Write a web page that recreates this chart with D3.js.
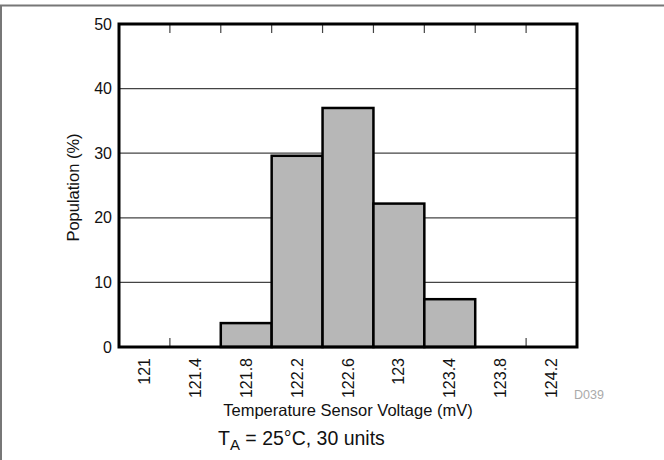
<!DOCTYPE html>
<html>
<head>
<meta charset="utf-8">
<script src="https://cdn.jsdelivr.net/npm/d3@7"></script>
<style>
  body { margin: 0; background: #fff; }
  text { font-family: "Liberation Sans", Arial, sans-serif; }
</style>
</head>
<body>
<div id="chart"></div>
<script>
// histogram bins (mV) and population (%)
const bins = ["121", "121.4", "121.8", "122.2", "122.6", "123", "123.4", "123.8", "124.2"];
const population = [0, 0, 3.7, 29.6, 37.0, 22.2, 7.4, 0, 0];
const yTicks = [0, 10, 20, 30, 40, 50];

const W = 664, H = 460;
const margin = {left: 119, top: 24, right: 87, bottom: 113},
    width = W - margin.left - margin.right,
    height = H - margin.top - margin.bottom;

const svg = d3.select("#chart").append("svg")
    .attr("width", W)
    .attr("height", H);

// outer frame (top and left edges only)
svg.append("line")
    .attr("x1", 0).attr("x2", W)
    .attr("y1", 5.5).attr("y2", 5.5)
    .attr("stroke", "#777").attr("stroke-width", 2);
svg.append("line")
    .attr("x1", 1).attr("x2", 1)
    .attr("y1", 5).attr("y2", H)
    .attr("stroke", "#777").attr("stroke-width", 2);

const g = svg.append("g")
    .attr("transform", `translate(${margin.left}, ${margin.top})`);

const xScale = d3.scaleBand()
    .domain(bins)
    .range([0, width])
    .padding(0);
const yScale = d3.scaleLinear()
    .domain([0, 50])
    .range([height, 0]);

// gridlines
g.selectAll(".grid")
    .data(yTicks.slice(1, -1))
    .enter().append("line")
    .attr("class", "grid")
    .attr("x1", 0).attr("x2", width)
    .attr("y1", d => yScale(d)).attr("y2", d => yScale(d))
    .attr("stroke", "#444").attr("stroke-width", 1.2);

// tick marks at bin edges, top and bottom, pointing inward
const edges = bins.slice(1).map(b => xScale(b));
g.selectAll(".ttick")
    .data(edges)
    .enter().append("line")
    .attr("x1", d => d).attr("x2", d => d)
    .attr("y1", 0).attr("y2", 9)
    .attr("stroke", "#444").attr("stroke-width", 1.2);
g.selectAll(".btick")
    .data(edges)
    .enter().append("line")
    .attr("x1", d => d).attr("x2", d => d)
    .attr("y1", height).attr("y2", height - 9)
    .attr("stroke", "#444").attr("stroke-width", 1.2);

// bars
g.selectAll(".bar")
    .data(bins.map((b, i) => ({bin: b, v: population[i]})).filter(d => d.v > 0))
    .enter().append("rect")
    .attr("class", "bar")
    .attr("x", d => xScale(d.bin))
    .attr("y", d => yScale(d.v))
    .attr("width", xScale.bandwidth())
    .attr("height", d => height - yScale(d.v))
    .attr("fill", "#b7b7b7")
    .attr("stroke", "#000")
    .attr("stroke-width", 2.5);

// plot frame
g.append("rect")
    .attr("x", 0).attr("y", 0)
    .attr("width", width).attr("height", height)
    .attr("fill", "none")
    .attr("stroke", "#000")
    .attr("stroke-width", 3);

// y axis labels
g.selectAll(".ylab")
    .data(yTicks)
    .enter().append("text")
    .attr("x", -7)
    .attr("y", d => yScale(d))
    .attr("dy", "0.35em")
    .attr("text-anchor", "end")
    .attr("font-size", "16px")
    .attr("fill", "#111")
    .text(d => d);

// x axis labels, rotated
g.selectAll(".xlab")
    .data(bins)
    .enter().append("text")
    .attr("transform", d => `translate(${xScale(d) + xScale.bandwidth() / 2}, ${height + 11}) rotate(-90)`)
    .attr("dy", "0.35em")
    .attr("text-anchor", "end")
    .attr("font-size", "16px")
    .attr("fill", "#111")
    .text(d => d);

// axis titles
g.append("text")
    .attr("transform", `translate(${79 - margin.left}, ${height / 2 + 2}) rotate(-90)`)
    .attr("text-anchor", "middle")
    .attr("font-size", "16.5px")
    .attr("fill", "#111")
    .text("Population (%)");

g.append("text")
    .attr("x", width / 2)
    .attr("y", height + 69)
    .attr("text-anchor", "middle")
    .attr("font-size", "16.5px")
    .attr("fill", "#111")
    .text("Temperature Sensor Voltage (mV)");

g.append("text")
    .attr("x", width - 3)
    .attr("y", height + 52)
    .attr("font-size", "12.5px")
    .attr("fill", "#aaa")
    .text("D039");

// condition note
const note = svg.append("text")
    .attr("x", 218)
    .attr("y", 445)
    .attr("font-size", "19.5px")
    .attr("fill", "#111");
note.append("tspan").text("T");
note.append("tspan").attr("dy", 5).attr("font-size", "15px").text("A");
note.append("tspan").attr("dy", -5).text(" = 25°C, 30 units");
</script>
</body>
</html>
